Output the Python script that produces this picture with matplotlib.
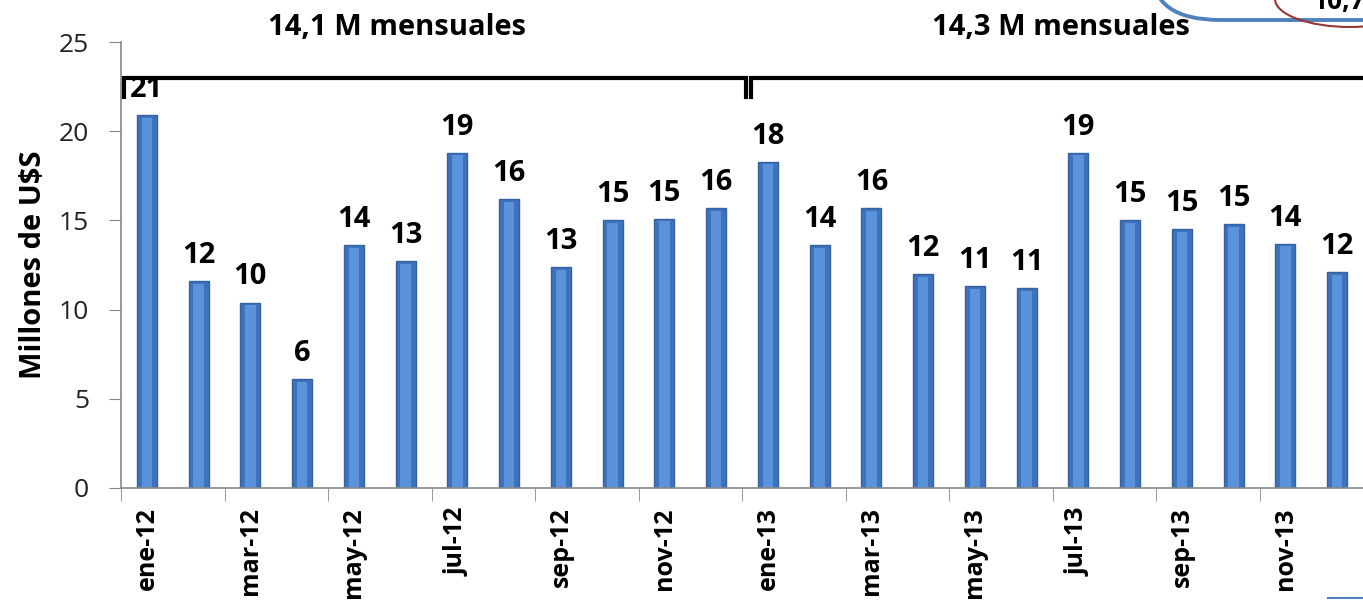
import matplotlib.pyplot as plt
from matplotlib.patches import FancyBboxPatch, Ellipse
from matplotlib.lines import Line2D

plt.rcParams['font.family'] = ['Open Sans', 'DejaVu Sans']

months = ['ene-12', 'feb-12', 'mar-12', 'abr-12', 'may-12', 'jun-12',
          'jul-12', 'ago-12', 'sep-12', 'oct-12', 'nov-12', 'dic-12',
          'ene-13', 'feb-13', 'mar-13', 'abr-13', 'may-13', 'jun-13',
          'jul-13', 'ago-13', 'sep-13', 'oct-13', 'nov-13', 'dic-13']
values = [20.9, 11.6, 10.4, 6.1, 13.6, 12.7, 18.8, 16.2, 12.4, 15.0, 15.1, 15.7,
          18.3, 13.6, 15.7, 12.0, 11.3, 11.2, 18.8, 15.0, 14.5, 14.8, 13.7, 12.1]
labels = ['21', '12', '10', '6', '14', '13', '19', '16', '13', '15', '15', '16',
          '18', '14', '16', '12', '11', '11', '19', '15', '15', '15', '14', '12']
periods = ['14,1 M mensuales', '14,3 M mensuales']

fig = plt.figure(figsize=(13.63, 6.02), dpi=100)
ax = fig.add_axes([0.0888, 0.1894, 0.9112, 0.7406])

x = list(range(len(values)))
# cylinder-ish look: dark outer bar + lighter core
ax.bar(x, values, width=0.39, color='#3F72BC', edgecolor='#35629F', linewidth=1.0, zorder=2)
ax.bar(x, [v - 0.15 for v in values], width=0.2, color='#5A93DC', linewidth=0, zorder=2.1)

# data labels
for xi, v, lab in zip(x, values, labels):
    ax.annotate(lab, (xi, v), xytext=(0, 13), textcoords='offset points',
                ha='center', va='baseline', fontsize=21, fontweight='bold')

ax.set_xlim(-0.5, len(values) - 0.5)
ax.set_ylim(0, 25)
ax.set_yticks([0, 5, 10, 15, 20, 25])
ax.tick_params(axis='y', labelsize=19, length=9, color='#888888', pad=14, labelcolor='#222222')

ax.set_xticks(x[::2])
ax.set_xticklabels(months[::2], rotation=90, fontsize=18, fontweight='bold')
ax.set_xticks([i - 0.5 for i in range(0, len(values) + 1, 2)], minor=True)
ax.tick_params(axis='x', which='major', length=0, pad=14)
ax.tick_params(axis='x', which='minor', length=9, color='#888888')

for s in ['top', 'right']:
    ax.spines[s].set_visible(False)
ax.spines['left'].set_color('#888888')
ax.spines['bottom'].set_color('#888888')
ax.spines['left'].set_linewidth(1.2)
ax.spines['bottom'].set_linewidth(1.2)

ax.set_ylabel('Millones de U$S', fontsize=21, fontweight='bold', labelpad=8)

# brackets over each year
half = len(values) // 2
brackets = [(-0.44, half - 0.43), (half - 0.33, len(values) + 1)]
title_x = [4.84, 17.66]
for (x0, x1), txt, tx in zip(brackets, periods, title_x):
    ax.plot([x0, x0, x1, x1], [21.9, 23.0, 23.0, 21.9], color='black', lw=3,
            clip_on=False, zorder=3, solid_joinstyle='miter')
    ax.text(tx, 25.8, txt, ha='center', va='center', fontsize=21, fontweight='bold')

# cropped callouts at the top right
fig.patches.append(FancyBboxPatch((1152 / 1363, 582 / 602), 400 / 1363, 80 / 602,
                                  boxstyle='round,pad=0,rounding_size=0.05',
                                  transform=fig.transFigure, fill=False,
                                  edgecolor='#4F81BD', lw=2.8))
fig.patches.append(Ellipse((1350 / 1363, 603 / 602), 150 / 1363, 56 / 602,
                           transform=fig.transFigure, fill=False,
                           edgecolor='#953735', lw=1.5))
fig.text(1312 / 1363, 600 / 602, '10,7', fontsize=19, fontweight='bold', va='center')
fig.lines.append(Line2D([1328 / 1363, 1], [4 / 602, 4 / 602], transform=fig.transFigure,
                        color='#4F81BD', lw=1.5))

fig.savefig('out.png', dpi=100)
